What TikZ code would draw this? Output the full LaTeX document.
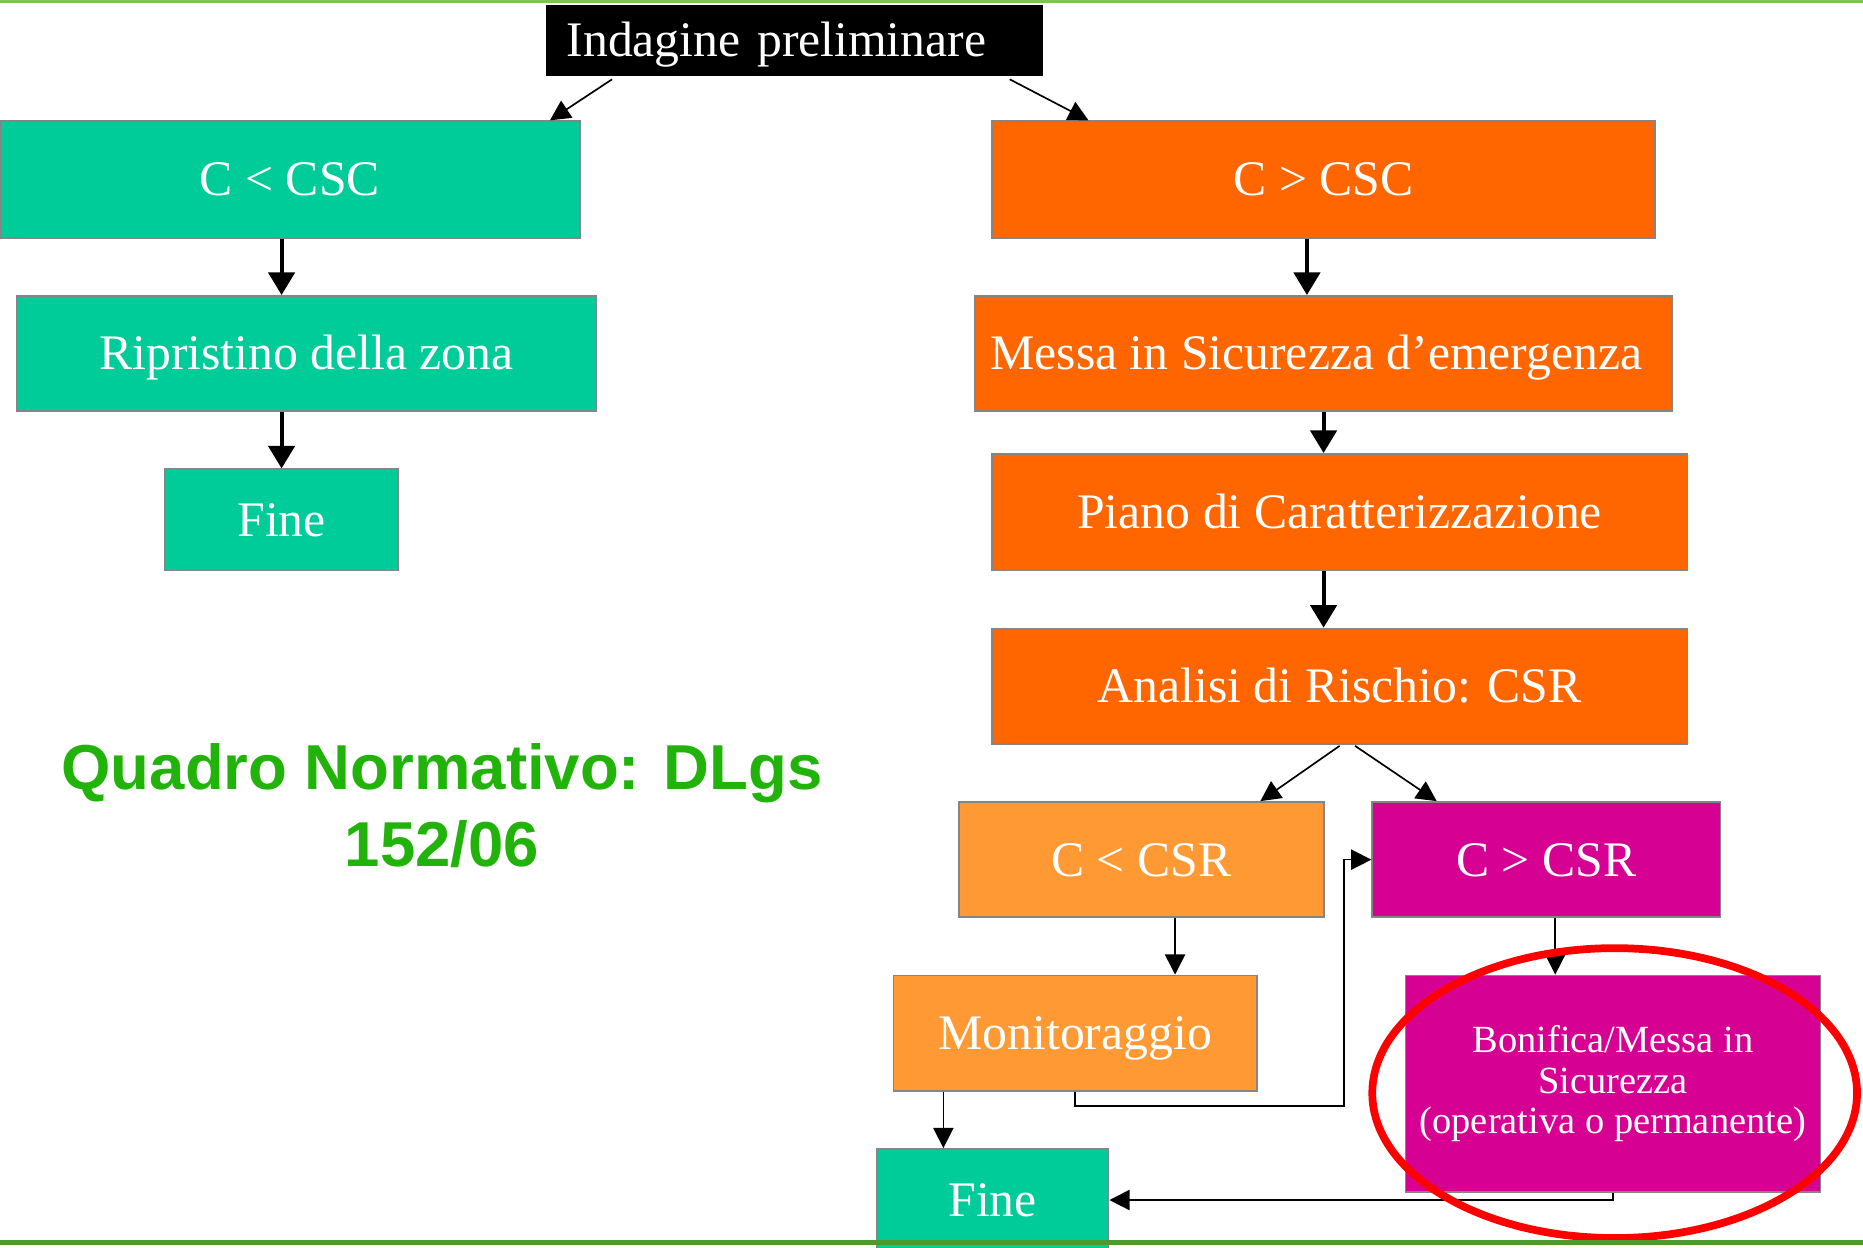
\documentclass[tikz,border=0pt]{standalone}
\usepackage{fontspec}
\setmainfont{Liberation Serif}
\newfontfamily\quadrofont{Liberation Sans}
\usetikzlibrary{arrows.meta,calc}
\definecolor{boxteal}{HTML}{00CC99}
\definecolor{boxorange}{HTML}{FF6600}
\definecolor{boxlight}{HTML}{FF9933}
\definecolor{boxmag}{HTML}{D60093}
\definecolor{boxgray}{HTML}{858585}
\definecolor{qgreen}{HTML}{22B30A}
\definecolor{lineg}{HTML}{4E9A2E}
\definecolor{linegl}{HTML}{7CC45A}
\begin{document}
\begin{tikzpicture}[x=0.01cm,y=-0.01cm,
  box/.style={draw=boxgray, line width=0.4pt, inner sep=0pt, text=white,
    text height=0.277cm, text depth=0pt,
    font=\fontsize{11.9}{14}\selectfont},
  tealbox/.style={box, fill=boxteal},
  orbox/.style={box, fill=boxorange},
  lightbox/.style={box, fill=boxlight},
  magbox/.style={box, fill=boxmag},
  thickarr/.style={line width=0.034cm, -{Triangle[length=0.19cm,width=0.22cm]}},
  thinarr/.style={line width=0.014cm, -{Triangle[length=0.17cm,width=0.17cm]}}]
\useasboundingbox (0,0) rectangle (1568,1050);
\fill[white] (0,0) rectangle (1568,1050);

% nodes
\node[box, fill=black, draw=black, text width=3.83cm, align=left, inner xsep=0.17cm,
  text depth=-0.03cm, minimum height=0.58cm] (ind) at (668.5,34) {Indagine preliminare};
\node[tealbox, minimum width=4.88cm, minimum height=0.98cm] (lt) at (244,151) {C < CSC};
\node[tealbox, minimum width=4.88cm, minimum height=0.97cm] (rip) at (258,297.5) {Ripristino della zona};
\node[tealbox, minimum width=1.96cm, minimum height=0.85cm] (fineL) at (237,437.5) {Fine};
\node[orbox, minimum width=5.58cm, minimum height=0.98cm] (gt) at (1114,151) {C > CSC};
\node[orbox, minimum width=5.86cm, minimum height=0.97cm] (messa) at (1114,297.5) {Messa in Sicurezza d’emergenza\hspace*{0.12cm}};
\node[orbox, minimum width=5.85cm, minimum height=0.98cm] (piano) at (1127.5,431) {Piano di Caratterizzazione};
\node[orbox, minimum width=5.85cm, minimum height=0.97cm] (analisi) at (1127.5,577.5) {Analisi di Rischio: CSR};
\node[lightbox, minimum width=3.07cm, minimum height=0.97cm] (ltr) at (960.5,723.5) {C < CSR};
\node[magbox, minimum width=2.93cm, minimum height=0.97cm] (gtr) at (1301.5,723.5) {C > CSR};
\node[lightbox, minimum width=3.06cm, minimum height=0.97cm] (mon) at (905,869.5) {Monitoraggio};
\node[magbox, minimum width=3.49cm, minimum height=1.82cm, align=center,
  text height=, text depth=, font=\fontsize{9.2}{9.7}\selectfont] (bon) at (1357.5,912)
  {Bonifica/Messa in\\Sicurezza\\(operativa o permanente)};
\node[tealbox, minimum width=1.95cm, minimum height=0.86cm] (fineB) at (835.5,1010) {Fine};

\node[font=\quadrofont\bfseries\fontsize{15.2}{18.5}\selectfont, text=qgreen, align=center]
  (quadro) at (372,678) {Quadro Normativo: DLgs\\152/06};

% thick connectors
\coordinate (xa) at (237,0);
\coordinate (xb) at (1100,0);
\draw[thickarr] (lt.south -| xa) -- (rip.north -| xa);
\draw[thickarr] (rip.south -| fineL) -- (fineL.north);
\draw[thickarr] (gt.south -| xb) -- (messa.north -| xb);
\draw[thickarr] (messa.south) -- (piano.north -| messa.south);
\draw[thickarr] (piano.south -| messa) -- (analisi.north -| messa);

% thin connectors
\draw[thinarr] ($(ind.south west)+(56,3)$) -- ($(lt.north east)+(-26,0)$);
\draw[thinarr] ($(ind.south east)+(-28,3)$) -- ($(gt.north west)+(82,0)$);
\draw[thinarr] ($(analisi.south)+(0,1)$) -- ($(ltr.north east)+(-54,0)$);
\draw[thinarr] ($(analisi.south)+(13,1)$) -- ($(gtr.north west)+(55,0)$);
\coordinate (xc) at (989,0);
\coordinate (xd) at (1309,0);
\coordinate (xe) at (794,0);
\coordinate (c1) at (1131,931);
\draw[thinarr] (ltr.south -| xc) -- (mon.north -| xc);
\draw[thinarr] (gtr.south -| xd) -- (bon.north -| xd);
\draw[thinarr] (mon.south -| xe) -- (fineB.north -| xe);
\draw[thinarr] (mon.south) |- (c1) |- (gtr.west);
\draw[thinarr] (bon.south) |- (fineB.east);

% red ellipse
\draw[red, line width=0.065cm] (1359,920) ellipse [x radius=204, y radius=122];

% frame lines
\draw[linegl, line width=0.025cm] (0,1) -- (1568,1);
\draw[lineg, line width=0.04cm] (0,1046) -- (1568,1046);
\end{tikzpicture}
\end{document}
